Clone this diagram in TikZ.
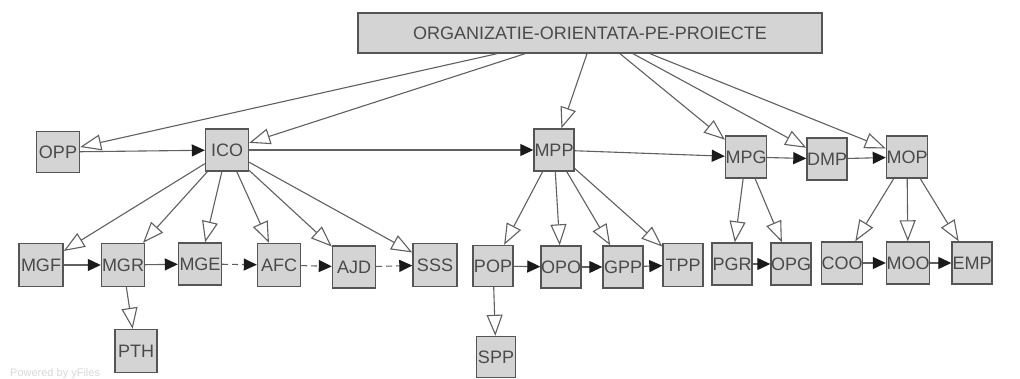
\documentclass[tikz,border=0pt]{standalone}
\usepackage{fontspec}
\setmainfont{Liberation Sans}
\usetikzlibrary{arrows.meta}
\definecolor{boxfill}{HTML}{D4D4D4}
\definecolor{boxline}{HTML}{555555}
\definecolor{edgecol}{HTML}{606060}
\definecolor{txtcol}{HTML}{4A4A4A}
\definecolor{tipcol}{HTML}{1A1A1A}
\begin{document}
\begin{tikzpicture}[x=1pt,y=-1pt,
  box/.style={draw=boxline, fill=boxfill, line width=1.4pt, minimum width=42pt, minimum height=42pt, inner sep=0pt, text=txtcol, font=\fontsize{18}{20}\selectfont},
  inh/.style={draw=edgecol, line width=1.1pt, -{Triangle[open,fill=white,length=21pt,width=16pt,line width=1.1pt]}},
  flow/.style={draw=edgecol, line width=1.1pt, -{Triangle[length=13pt,width=12pt,color=tipcol]}},
  flowd/.style={flow, dash pattern=on 6pt off 4pt}]
\clip (0,0) rectangle (1020,379);
\fill[white] (0,0) rectangle (1020,379);
\node[anchor=base west, text=black!15, font=\fontsize{11}{12}\selectfont, inner sep=0pt] (pw) at (10,376) {Powered by yFiles};
% top
\node[box, minimum width=464pt, minimum height=40pt] (top) at (590,33) {ORGANIZATIE-ORIENTATA-PE-PROIECTE};
% row 1
\node[box, minimum width=43pt, minimum height=41pt] (OPP) at (58,152) {OPP};
\node[box, minimum width=43pt] (ICO) at (227,150) {ICO};
\node[box, minimum width=40pt] (MPP) at (554,150) {MPP};
\node[box, minimum width=40pt] (MPG) at (746,157) {MPG};
\node[box, minimum width=40pt] (DMP) at (827,159) {DMP};
\node[box, minimum width=40pt] (MOP) at (907,157) {MOP};
% row 2
\node[box, minimum width=44pt, minimum height=43pt] (MGF) at (41,265) {MGF};
\node[box, minimum width=43pt, minimum height=43pt] (MGR) at (123,265) {MGR};
\node[box, minimum width=43pt] (MGE) at (200,264) {MGE};
\node[box, minimum width=43pt, minimum height=43pt] (AFC) at (279,265) {AFC};
\node[box, minimum width=43pt] (AJD) at (354,267) {AJD};
\node[box, minimum width=44pt, minimum height=43pt] (SSS) at (435,265) {SSS};
\node[box, minimum width=42pt, minimum height=43pt] (PTH) at (136,351) {PTH};
\node[box, minimum width=40pt, minimum height=41pt] (POP) at (493,266) {POP};
\node[box, minimum width=40pt] (OPO) at (561,267) {OPO};
\node[box, minimum width=40pt] (GPP) at (623,267) {GPP};
\node[box, minimum width=40pt, minimum height=43pt] (TPP) at (683,265) {TPP};
\node[box, minimum width=40pt] (PGR) at (732,264) {PGR};
\node[box, minimum width=40pt] (OPG) at (791,264) {OPG};
\node[box, minimum width=40pt] (COO) at (842,263) {COO};
\node[box, minimum width=40pt] (MOO) at (908,263) {MOO};
\node[box, minimum width=40pt] (EMP) at (972,263) {EMP};
\node[box, minimum width=39pt, minimum height=41pt] (SPP) at (496,357) {SPP};
% edges from top
\draw[inh] ([xshift=-93pt]top.south) -- (OPP);
\draw[inh] ([xshift=-65pt]top.south) -- (ICO);
\draw[inh] ([xshift=-3pt]top.south) -- (MPP);
\draw[inh] ([xshift=30pt]top.south) -- (MPG);
\draw[inh] ([xshift=43pt]top.south) -- (DMP);
\draw[inh] ([xshift=60pt]top.south) -- (MOP);
% row 1 flows
\draw[flow] (OPP) -- (ICO);
\draw[flow] (ICO) -- (MPP);
\draw[flow] (MPP) -- (MPG);
\draw[flow] (MPG) -- (DMP);
\draw[flow] (DMP) -- (MOP);
% ICO children
\draw[inh] (ICO) -- (MGF);
\draw[inh] (ICO) -- (MGR);
\draw[inh] (ICO) -- (MGE);
\draw[inh] (ICO) -- (AFC);
\draw[inh] (ICO) -- (AJD);
\draw[inh] (ICO) -- (SSS);
\draw[inh] (MGR) -- (PTH);
\draw[flow] (MGF) -- (MGR);
\draw[flow] (MGR) -- (MGE);
\draw[flowd] (MGE) -- (AFC);
\draw[flowd] (AFC) -- (AJD);
\draw[flowd] (AJD) -- (SSS);
% MPP children
\draw[inh] (MPP) -- (POP);
\draw[inh] (MPP) -- (OPO);
\draw[inh] (MPP) -- (GPP);
\draw[inh] (MPP) -- (TPP);
\draw[inh] (POP) -- (SPP);
\draw[flow] (POP) -- (OPO);
\draw[flow] (OPO) -- (GPP);
\draw[flow] (GPP) -- (TPP);
% MPG children
\draw[inh] (MPG) -- (PGR);
\draw[inh] (MPG) -- (OPG);
\draw[flow] (PGR) -- (OPG);
% MOP children
\draw[inh] (MOP) -- (COO);
\draw[inh] (MOP) -- (MOO);
\draw[inh] (MOP) -- (EMP);
\draw[flow] (COO) -- (MOO);
\draw[flow] (MOO) -- (EMP);
\end{tikzpicture}
\end{document}
